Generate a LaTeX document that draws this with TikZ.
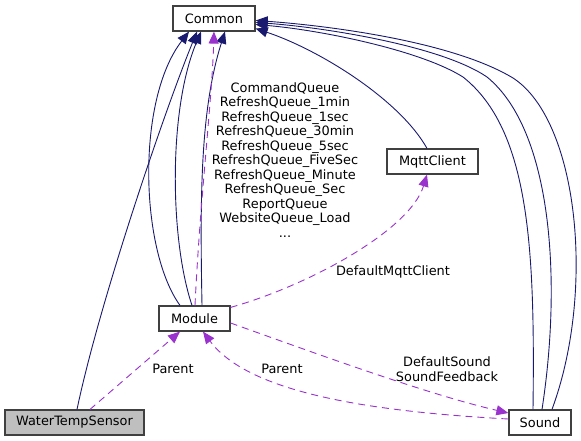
\documentclass[tikz,border=0pt]{standalone}
\usepackage{fontspec}
\setmainfont{DejaVu Sans}
\usetikzlibrary{arrows.meta}
\definecolor{edgenavy}{HTML}{191970}
\definecolor{edgepurple}{HTML}{9A32CD}
\definecolor{boxborder}{HTML}{404040}
\definecolor{boxgray}{HTML}{BFBFBF}
\begin{document}
\begin{tikzpicture}[x=1pt,y=-1pt,
  cls/.style={draw=boxborder, line width=1.2pt, fill=white, minimum height=25pt, inner sep=0pt, font=\fontsize{12.9}{14.5}\selectfont},
  inh/.style={draw=edgenavy, line width=0.9pt, -{Triangle[length=12pt,width=10pt]}},
  use/.style={draw=edgepurple, line width=0.9pt, dash pattern=on 7pt off 5pt, -{Triangle[length=12pt,width=10pt]}},
  lbl/.style={font=\fontsize{12.9}{14.5}\selectfont, align=center, inner sep=0pt}]
\useasboundingbox (0,0) rectangle (581,441);
\node[cls, minimum width=82pt] (common) at (214,18.5) {Common};
\node[cls, minimum width=91pt] (mqtt) at (432.5,161.5) {MqttClient};
\node[cls, minimum width=71pt] (module) at (194.5,318.5) {Module};
\node[cls, minimum width=139pt, fill=boxgray] (wts) at (74.5,422.5) {WaterTempSensor};
\node[cls, minimum width=62pt] (sound) at (540,422.5) {Sound};
% inheritance-like edges to Common
\draw[inh] ([xshift=2.5pt]wts.north) .. controls (100,300) and (165,110) .. ([xshift=-17pt]common.south);
\draw[inh] ([xshift=-14.5pt]module.north) .. controls (140,250) and (136,100) .. ([xshift=-25pt]common.south);
\draw[inh] ([xshift=-2.5pt]module.north) .. controls (170,240) and (168,110) .. ([xshift=-13pt]common.south);
\draw[inh] ([xshift=7.5pt]module.north) .. controls (200,200) and (200,110) .. ([xshift=11pt]common.south);
\draw[inh] ([xshift=-7pt]sound.north) .. controls (535,250) and (530,130) .. (463,77) .. controls (420,50) and (320,30) .. ([yshift=-6pt]common.east);
\draw[inh] ([xshift=2pt]sound.north) .. controls (562,280) and (552,130) .. (487,77) .. controls (440,45) and (320,27) .. ([yshift=-4pt]common.east);
\draw[inh] ([xshift=12pt]sound.north) .. controls (596,290) and (578,120) .. (513,78) .. controls (450,40) and (320,25) .. ([yshift=-2pt]common.east);
\draw[inh] ([xshift=-5.5pt]mqtt.north) .. controls (400,100) and (320,50) .. ([yshift=-10pt]common.east);
% usage edges
\draw[use] ([xshift=0.5pt]module.north) .. controls (200,200) and (212,100) .. (common.south);
\node[lbl] (qlabel) at (285,160) {CommandQueue\\RefreshQueue\_1min\\RefreshQueue\_1sec\\RefreshQueue\_30min\\RefreshQueue\_5sec\\RefreshQueue\_FiveSec\\RefreshQueue\_Minute\\RefreshQueue\_Sec\\ReportQueue\\WebsiteQueue\_Load\\...};
\draw[use] ([yshift=-2pt]module.north east) .. controls (310,285) and (410,230) .. ([xshift=-5.5pt]mqtt.south);
\node[lbl] (lmqtt) at (393,272) {DefaultMqttClient};
\draw[use] ([yshift=-4.5pt]module.east) .. controls (320,355) and (430,395) .. ([yshift=9.5pt]sound.west);
\node[lbl] (lsound) at (447,369) {DefaultSound\\SoundFeedback};
\draw[use] ([yshift=3.5pt]sound.west) .. controls (380,412) and (250,395) .. ([xshift=8.5pt]module.south);
\node[lbl] (lparent2) at (282,369) {Parent};
\draw[use] ([xshift=15.5pt]wts.north) -- ([xshift=-14.5pt]module.south);
\node[lbl] (lparent1) at (173,369) {Parent};
\end{tikzpicture}
\end{document}
